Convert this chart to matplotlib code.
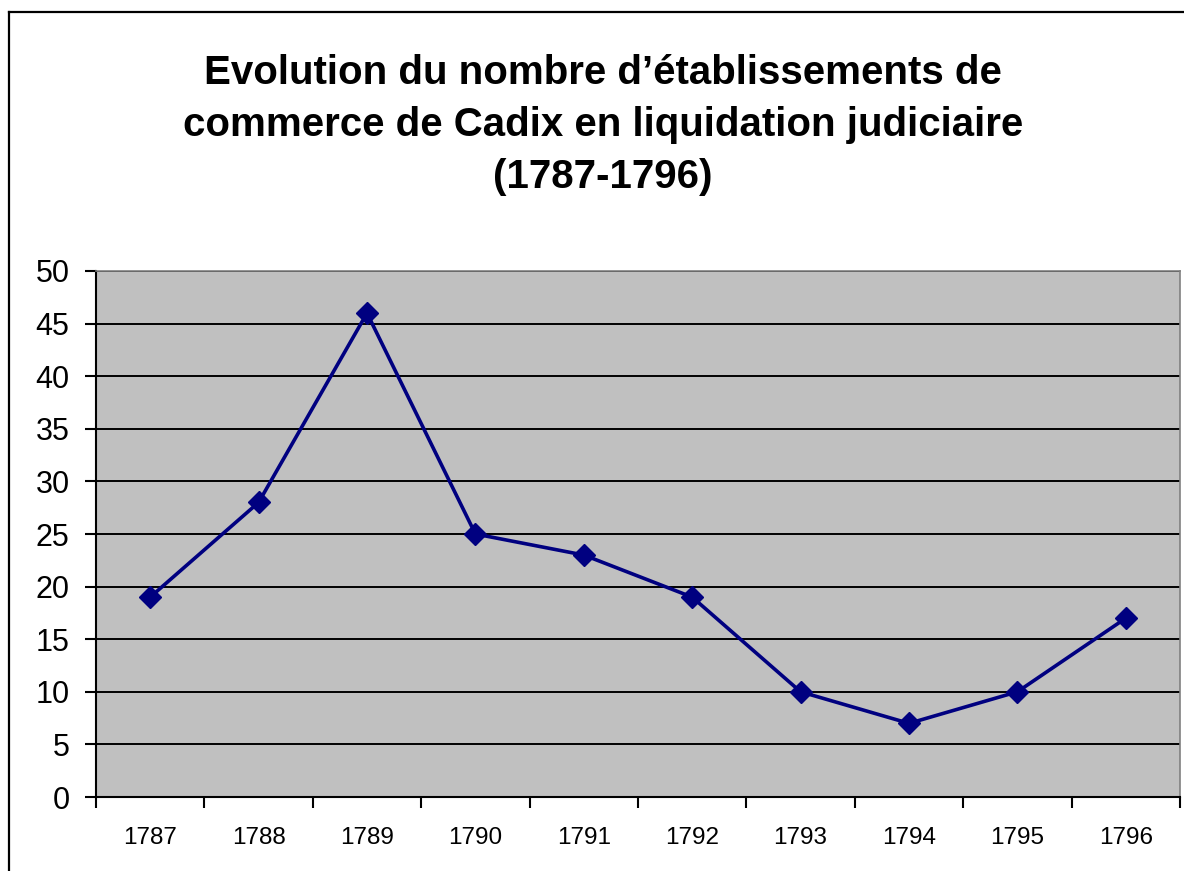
import matplotlib

matplotlib.use("Agg")
import matplotlib.pyplot as plt
from matplotlib.lines import Line2D

# data
years = ["1787", "1788", "1789", "1790", "1791", "1792", "1793", "1794", "1795", "1796"]
counts = [19, 28, 46, 25, 23, 19, 10, 7, 10, 17]
yticks = list(range(0, 55, 5))

title = "Evolution du nombre d\u2019établissements de\ncommerce de Cadix en liquidation judiciaire\n(1787-1796)"

plt.rcParams["font.family"] = ["Liberation Sans", "DejaVu Sans"]

fig = plt.figure(figsize=(11.84, 8.71), dpi=100)
ax = fig.add_axes([96 / 1184, 1 - 797 / 871, (1180 - 96) / 1184, (797 - 271) / 871])
ax.set_facecolor("#c0c0c0")

x = list(range(len(years)))
ax.plot(x, counts, color="#000080", linewidth=2.6, marker="D", markersize=11.5,
        markerfacecolor="#000080", markeredgecolor="#000080", markeredgewidth=1, zorder=3)

ax.set_xlim(-0.5, len(years) - 0.5)
ax.set_ylim(0, 50)
ax.set_yticks(yticks)
ax.set_yticklabels([str(v) for v in yticks], fontsize=22)
for v in yticks[1:]:
    ax.axhline(v, color="black", linewidth=1.4, zorder=1)

# category labels centred, ticks between categories
ax.set_xticks(x)
ax.set_xticklabels(years, fontsize=17.5)
ax.tick_params(axis="x", length=0, pad=21.5)
ax.set_xticks([i - 0.5 for i in range(len(years) + 1)], minor=True)
ax.tick_params(axis="x", which="minor", length=8, width=1.5, direction="out", color="black")
ax.tick_params(axis="y", length=8, width=1.5, direction="out", pad=11)

for side in ["left", "bottom"]:
    ax.spines[side].set_color("black")
    ax.spines[side].set_linewidth(1.5)
ax.spines["top"].set_color("#808080")
ax.spines["right"].set_color("#808080")
ax.spines["top"].set_linewidth(1.2)
ax.spines["right"].set_linewidth(1.2)

fig.text(603 / 1184, 1 - 54 / 871, title, ha="center", va="top", fontsize=29,
         fontweight="bold", linespacing=1.47)

# chart-area border (cropped at right and bottom)
fig.add_artist(Line2D([9 / 1184, 1], [1 - 12 / 871, 1 - 12 / 871], color="black", linewidth=1.6,
                      transform=fig.transFigure))
fig.add_artist(Line2D([9 / 1184, 9 / 1184], [0, 1 - 12 / 871], color="black", linewidth=1.6,
                      transform=fig.transFigure))

fig.savefig("out.png", dpi=100)
